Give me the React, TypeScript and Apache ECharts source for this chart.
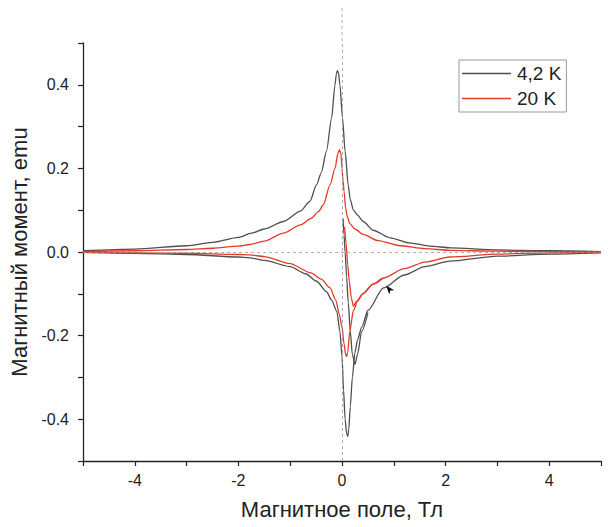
import React, { useEffect, useRef } from 'react';
import * as echarts from 'echarts';

// Series names
const seriesNames = ['4,2 K', '20 K'];

// 4,2 K — upper branch (field decreasing)
const up42X = [-5, -4, -3, -2.5, -2, -1.75, -1.5, -1.13, -0.8, -0.62, -0.49, -0.4, -0.3, -0.2, -0.135, -0.11, -0.09, -0.07, -0.04, 0.01, 0.06, 0.12, 0.16, 0.22, 0.3, 0.41, 0.6, 0.93, 1.3, 1.7, 2.1, 3, 4, 5];
const up42Y = [0.003, 0.007, 0.015, 0.023, 0.035, 0.045, 0.055, 0.073, 0.098, 0.121, 0.161, 0.19, 0.241, 0.321, 0.4, 0.425, 0.434, 0.43, 0.4, 0.32, 0.241, 0.16, 0.125, 0.1, 0.088, 0.073, 0.052, 0.034, 0.022, 0.014, 0.01, 0.005, 0.003, 0.001];
// 4,2 K — lower branch (field increasing)
const low42X = [-5, -4, -3, -2, -1.78, -1.5, -1, -0.7, -0.49, -0.3, -0.2, -0.1, -0.04, 0, 0.03, 0.06, 0.09, 0.11, 0.13, 0.16, 0.2, 0.25, 0.3, 0.38, 0.5, 0.8, 1.2, 1.6, 2.08, 3, 4, 5];
const low42Y = [-0.001, -0.003, -0.006, -0.012, -0.014, -0.02, -0.035, -0.052, -0.07, -0.095, -0.115, -0.142, -0.19, -0.25, -0.33, -0.4, -0.435, -0.441, -0.425, -0.37, -0.3, -0.24, -0.21, -0.18, -0.14, -0.086, -0.055, -0.035, -0.022, -0.01, -0.005, -0.002];
// 4,2 K — initial curve
const vir42X = [0.02, 0.04, 0.06, 0.09, 0.12, 0.16, 0.2, 0.25, 0.3, 0.38, 0.5];
const vir42Y = [0.08, 0.04, 0.0, -0.06, -0.12, -0.19, -0.245, -0.269, -0.245, -0.19, -0.145];

// 20 K — upper branch
const up20X = [-5, -4, -3, -2.5, -2, -1.78, -1.5, -1.13, -0.8, -0.6, -0.45, -0.36, -0.23, -0.135, -0.08, -0.05, -0.02, 0, 0.02, 0.04, 0.07, 0.1, 0.15, 0.25, 0.41, 0.7, 1.12, 1.6, 2.08, 3, 4, 5];
const up20Y = [0.001, 0.003, 0.006, 0.009, 0.014, 0.018, 0.026, 0.045, 0.065, 0.08, 0.097, 0.113, 0.161, 0.2, 0.235, 0.245, 0.235, 0.2, 0.17, 0.145, 0.105, 0.085, 0.068, 0.055, 0.042, 0.027, 0.015, 0.008, 0.004, 0.002, 0.001, 0];
// 20 K — lower branch
const low20X = [-5, -4, -3, -2, -1.78, -1.5, -1, -0.6, -0.4, -0.23, -0.12, -0.05, 0, 0.04, 0.07, 0.09, 0.11, 0.15, 0.22, 0.3, 0.4, 0.6, 0.8, 1.2, 1.6, 2.08, 3, 4, 5];
const low20Y = [-0.001, -0.002, -0.003, -0.006, -0.007, -0.011, -0.028, -0.05, -0.065, -0.086, -0.115, -0.15, -0.18, -0.22, -0.245, -0.25, -0.24, -0.19, -0.14, -0.118, -0.1, -0.077, -0.062, -0.04, -0.024, -0.012, -0.005, -0.002, -0.001];
// 20 K — initial curve
const vir20X = [0.05, 0.08, 0.11, 0.14, 0.18, 0.22, 0.28, 0.4, 0.6, 0.8];
const vir20Y = [0.06, 0.02, -0.03, -0.07, -0.11, -0.13, -0.118, -0.1, -0.077, -0.062];

// Arrow annotation position (data coords)
const arrowPos = [0.85, -0.08];

const zip = (xs: number[], ys: number[]) => xs.map((x, i) => [x, ys[i]]);

export default function App() {
  const ref = useRef<HTMLDivElement>(null);
  useEffect(() => {
    document.body.style.margin = '0';
    const chart = echarts.init(ref.current!, null, { renderer: 'svg' });
    const font = '"Liberation Sans", Arial, sans-serif';
    const gray = '#4f4f4f';
    const red = '#e5392b';
    const mk = (name: string, color: string, xs: number[], ys: number[], extra: any = {}) => ({
      type: 'line',
      name,
      data: zip(xs, ys),
      symbol: 'none',
      showSymbol: false,
      smooth: 0.25,
      smoothMonotone: 'x',
      lineStyle: { color, width: 1.3 },
      itemStyle: { color },
      z: 3,
      ...extra,
    });
    chart.setOption({
      animation: false,
      textStyle: { fontFamily: font },
      grid: { left: 83, right: 7, top: 43, bottom: 66 },
      legend: {
        data: seriesNames.map((n) => ({ name: n, icon: 'rect' })),
        orient: 'vertical',
        left: 459,
        top: 60,
        itemWidth: 49,
        itemHeight: 1.3,
        itemGap: 6,
        padding: [4, 5, 4, 3],
        borderColor: '#999',
        borderWidth: 1,
        textStyle: { fontSize: 19, color: '#222', fontFamily: font, padding: [0, 0, 0, 1] },
      },
      xAxis: {
        type: 'value',
        min: -5,
        max: 5,
        interval: 1,
        name: 'Магнитное поле, Тл',
        nameLocation: 'middle',
        nameGap: 37,
        nameTextStyle: { fontSize: 22, color: '#222', fontFamily: font },
        axisLine: { onZero: false, lineStyle: { color: '#222', width: 1.3 } },
        axisTick: { show: true, length: 5, lineStyle: { color: '#222', width: 1.2 } },
        axisLabel: {
          fontSize: 16,
          color: '#222',
          margin: 11,
          formatter: (v: number) => (Math.round(v) % 2 === 0 && Math.abs(v) < 4.5 ? String(v) : ''),
        },
        splitLine: { show: false },
      },
      yAxis: {
        type: 'value',
        min: -0.5,
        max: 0.5,
        interval: 0.1,
        name: 'Магнитный момент, emu',
        nameLocation: 'middle',
        nameGap: 51,
        nameTextStyle: { fontSize: 22, color: '#222', fontFamily: font },
        axisLine: { onZero: false, lineStyle: { color: '#222', width: 1.3 } },
        axisTick: { show: true, length: 5, lineStyle: { color: '#222', width: 1.2 } },
        axisLabel: {
          fontSize: 16,
          color: '#222',
          margin: 14,
          formatter: (v: number) => {
            const k = Math.round(v * 10);
            return k % 2 === 0 && Math.abs(k) < 5 ? (k / 10).toFixed(1) : '';
          },
        },
        splitLine: { show: false },
      },
      series: [
        mk(seriesNames[0], gray, up42X, up42Y, {
          markLine: {
            silent: true,
            symbol: ['none', 'none'],
            label: { show: false },
            lineStyle: { type: [3, 3], color: '#9a9a9a', width: 0.8 },
            data: [{ xAxis: 0 }, { yAxis: 0 }],
          },
        }),
        mk(seriesNames[0], gray, low42X, low42Y, {
          markPoint: {
            silent: true,
            label: { show: false },
            data: [{ coord: arrowPos, symbol: 'arrow', symbolSize: [5, 9], symbolRotate: 40, itemStyle: { color: '#111' } }],
          },
        }),
        mk(seriesNames[0], gray, vir42X, vir42Y),
        mk(seriesNames[1], red, up20X, up20Y),
        mk(seriesNames[1], red, low20X, low20Y),
        mk(seriesNames[1], red, vir20X, vir20Y),
      ],
    });
    const px = chart.convertToPixel({ xAxisIndex: 0 }, 0) as number;
    const topY = chart.convertToPixel({ yAxisIndex: 0 }, 0.5) as number;
    chart.setOption({
      graphic: [
        {
          type: 'line',
          silent: true,
          shape: { x1: px, y1: 8, x2: px, y2: topY },
          style: { stroke: '#9a9a9a', lineDash: [3, 3], lineWidth: 0.8 },
        },
      ],
    });
    return () => chart.dispose();
  }, []);
  return <div ref={ref} style={{ width: 608, height: 527 }} />;
}
